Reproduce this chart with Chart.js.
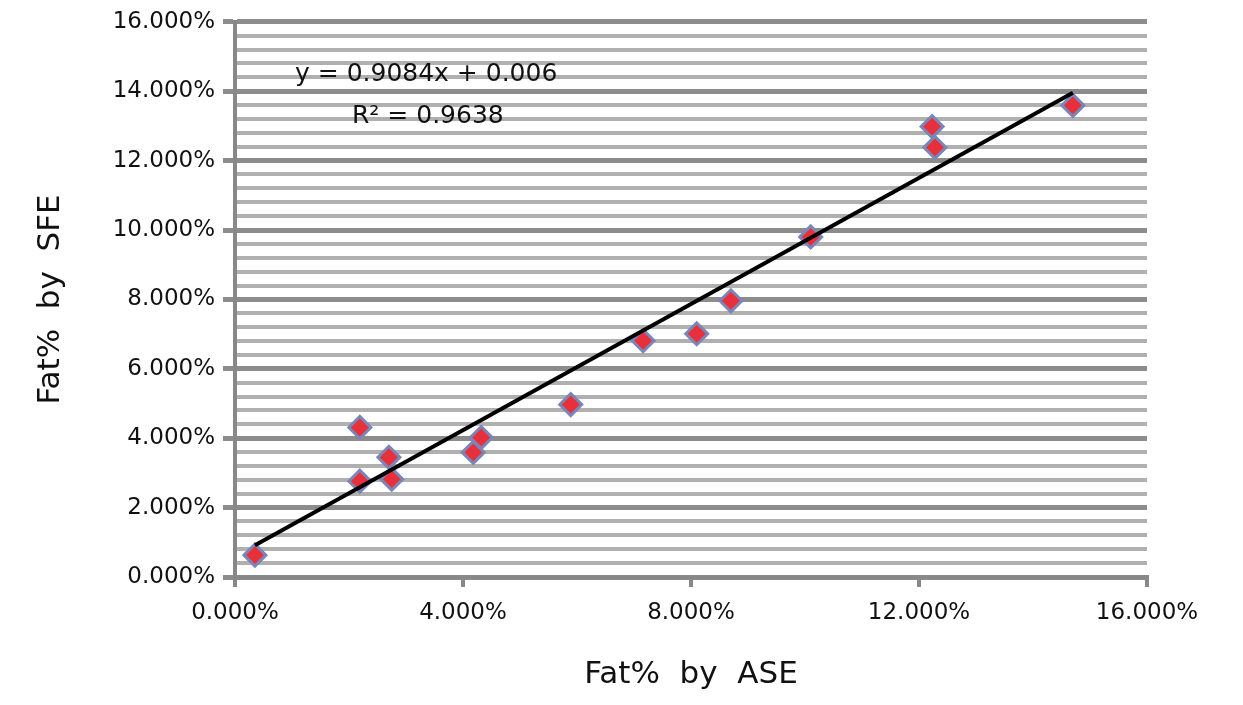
<!DOCTYPE html>
<html><head><meta charset="utf-8">
<script src="https://cdn.jsdelivr.net/npm/chart.js@4/dist/chart.umd.min.js"></script>
<style>html,body{margin:0;padding:0;background:#fff}#c{display:block}</style>
</head><body>
<div style="width:1243px;height:705px"><canvas id="c"></canvas></div>
<script>
const xValues=[0.0035,0.0219,0.0219,0.0270,0.0275,0.0418,0.0432,0.0589,0.0716,0.0810,0.0870,0.1010,0.1223,0.1228,0.1470];
const yValues=[0.0063,0.0431,0.0276,0.0345,0.0282,0.0359,0.0402,0.0497,0.0681,0.0701,0.0796,0.0980,0.1298,0.1238,0.1359];
const slope=0.9084, intercept=0.006;
const trendX=[0.0035,0.1470];
const equationLines=["y = 0.9084x + 0.006","R² = 0.9638"];
const xTitle="Fat%  by  ASE", yTitle="Fat%  by  SFE";
const FONT="'DejaVu Sans', Verdana, sans-serif";
const isMajor=v=>Math.round(v*1000)%20===0;
const eqPlugin={id:'eq',afterDatasetsDraw(ch){const c=ch.ctx;c.save();c.font="25px "+FONT;c.fillStyle="#111";c.textBaseline="middle";
c.fillText(equationLines[0],295,74);c.fillText(equationLines[1],352,116);c.restore();}};
new Chart(document.getElementById('c'),{
type:'scatter',
data:{datasets:[
{type:'line',data:trendX.map(x=>({x,y:slope*x+intercept})),borderColor:'#000',borderWidth:4,pointRadius:0,order:1},
{data:xValues.map((x,i)=>({x,y:yValues[i]})),pointStyle:'rectRot',pointRadius:11,pointBackgroundColor:'#e8303a',pointBorderColor:'#7a86b8',pointBorderWidth:3,order:2}
]},
options:{responsive:true,maintainAspectRatio:false,animation:false,
layout:{padding:{top:20,right:96,left:0,bottom:0}},
plugins:{legend:{display:false},tooltip:{enabled:false}},
scales:{
x:{type:'linear',min:0,max:0.16,
ticks:{stepSize:0.04,font:{size:23,family:FONT},color:'#111',callback:v=>(v*100).toFixed(3)+'%',padding:12},
grid:{drawOnChartArea:false,color:'#888',lineWidth:4,tickLength:10},
border:{color:'#888',width:4},
title:{display:true,text:xTitle,font:{size:31,family:FONT},color:'#111',padding:{top:0,bottom:11}},
afterFit:s=>{s.height=128;}},
y:{type:'linear',min:0,max:0.16,
afterBuildTicks:s=>{const t=[];for(let i=0;i<=40;i++)t.push({value:i*0.004});s.ticks=t;},
ticks:{autoSkip:false,font:{size:23,family:FONT},color:'#111',padding:8,callback:v=>isMajor(v)?(v*100).toFixed(3)+'%':''},
grid:{color:c=>isMajor(c.tick.value)?'#8c8c8c':'#b0b0b0',lineWidth:c=>isMajor(c.tick.value)?5:4,tickLength:12,
tickColor:c=>isMajor(c.tick.value)?'#8c8c8c':'rgba(0,0,0,0)'},
border:{color:'#888',width:4},
title:{display:true,text:yTitle,font:{size:31,family:FONT},color:'#111',padding:{top:32,bottom:0}},
afterFit:s=>{s.width=235;}}
}},
plugins:[eqPlugin]
});
</script>
</body></html>
